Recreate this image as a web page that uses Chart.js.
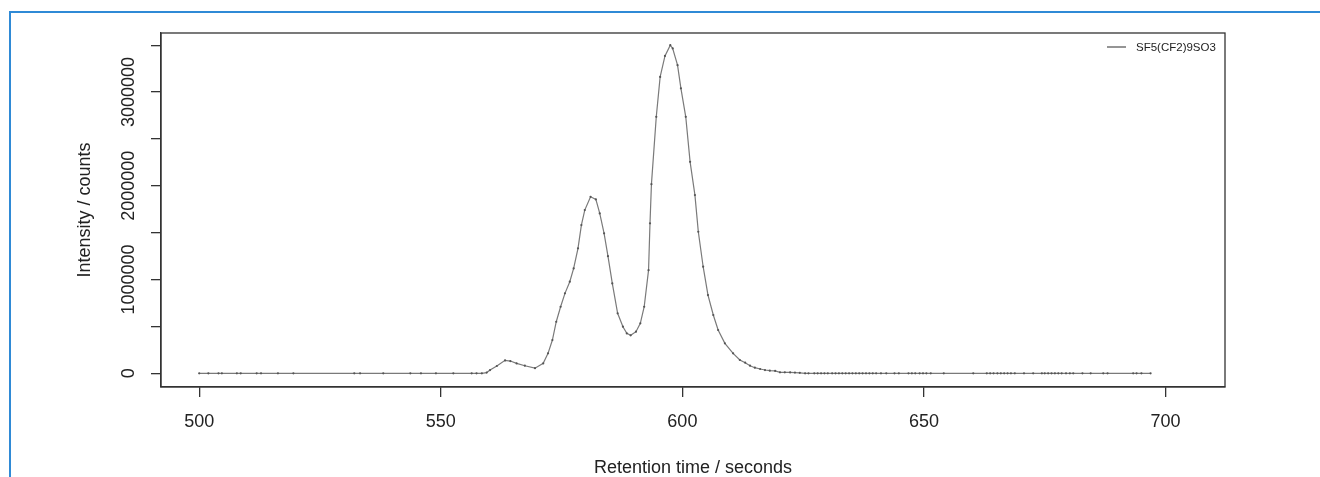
<!DOCTYPE html>
<html>
<head>
<meta charset="utf-8">
<script src="https://cdn.jsdelivr.net/npm/chart.js@4"></script>
<style>
  html, body { margin: 0; padding: 0; background: #fff; }
  #wrap { position: relative; width: 1320px; height: 477px; overflow: hidden; }
  #frame {
    position: absolute; left: 9px; top: 11px; width: 1320px; height: 480px;
    border-top: 2px solid #2f8ad6; border-left: 2px solid #2f8ad6;
  }
  #chart { position: absolute; left: 0; top: 0; }
</style>
</head>
<body>
<div id="wrap">
  <div id="frame"></div>
  <canvas id="chart" width="1320" height="477"></canvas>
</div>
<script>
// ---------------------------------------------------------
// DATA
// ---------------------------------------------------------
const seriesName = "SF5(CF2)9SO3";

// retention time, seconds
const retentionTime = [
  500.0, 501.9, 504.0, 504.7, 507.8, 508.6, 511.9, 512.8, 516.3, 519.5,
  532.1, 533.3, 538.1, 543.7, 545.9, 549.0, 552.6, 556.4, 557.4, 558.5,
  559.5, 560.2, 561.6, 563.3, 564.4, 565.7, 567.4, 569.5, 571.2, 572.2,
  573.1, 573.9, 574.8, 575.7, 576.7, 577.5, 578.4, 579.1, 579.8, 581.0,
  582.1, 582.9, 583.8, 584.6, 585.5, 586.6, 587.7, 588.5, 589.3, 590.4,
  591.3, 592.1, 593.0, 593.3, 593.6, 594.6, 595.4, 596.4, 597.5, 598.0,
  599.0, 599.7, 600.7, 601.6, 602.6, 603.3, 604.3, 605.3, 606.4, 607.4,
  608.8, 610.5, 611.9, 613.0, 614.0, 615.0, 616.1, 617.1, 618.1, 619.2,
  620.2, 621.2, 622.3, 623.3, 624.3, 625.4, 626.1, 627.3, 628.0, 628.7,
  629.4, 630.1, 631.0, 631.7, 632.4, 633.1, 633.8, 634.5, 635.2, 635.9,
  636.6, 637.3, 638.0, 638.7, 639.4, 640.1, 641.1, 642.2, 643.9, 644.8,
  646.8, 647.5, 648.2, 649.1, 649.8, 650.5, 651.4, 654.1, 660.2, 663.0,
  663.7, 664.4, 665.2, 665.9, 666.6, 667.3, 668.0, 668.8, 670.7, 672.6,
  674.4, 675.0, 675.7, 676.4, 677.1, 677.8, 678.5, 679.4, 680.2, 680.9,
  682.8, 684.5, 687.1, 688.0, 693.3, 694.0, 695.0, 696.9
];

// intensity, counts
const intensity = [
  0, 0, 0, 0, 0, 0, 0, 0, 0, 0,
  0, 0, 0, 0, 0, 0, 0, 0, 0, 0,
  8000, 35000, 78000, 138000, 131000, 106000, 81000, 55000, 106000, 213000,
  355000, 550000, 710000, 853000, 977000, 1119000, 1333000, 1581000, 1741000, 1883000,
  1855000, 1706000, 1493000, 1250000, 959000, 640000, 497000, 426000, 405000, 444000,
  533000, 710000, 1100000, 1600000, 2018000, 2736000, 3162000, 3386000, 3500000, 3465000,
  3287000, 3040000, 2736000, 2256000, 1901000, 1510000, 1137000, 835000, 622000, 462000,
  320000, 213000, 142000, 113000, 81000, 60000, 46000, 35000, 28000, 25000,
  11000, 11000, 9000, 8000, 5000, 0, 0, 0, 0, 0,
  0, 0, 0, 0, 0, 0, 0, 0, 0, 0,
  0, 0, 0, 0, 0, 0, 0, 0, 0, 0,
  0, 0, 0, 0, 0, 0, 0, 0, 0, 0,
  0, 0, 0, 0, 0, 0, 0, 0, 0, 0,
  0, 0, 0, 0, 0, 0, 0, 0, 0, 0,
  0, 0, 0, 0, 0, 0, 0, 0
];

const xTicks = [500, 550, 600, 650, 700];
const yTicks = [0, 500000, 1000000, 1500000, 2000000, 2500000, 3000000, 3500000];
const yLabelled = [0, 1000000, 2000000, 3000000];

// ---------------------------------------------------------
// STYLE
// ---------------------------------------------------------
const FONT = "'Liberation Sans', Arial, sans-serif";
const INK = "#333";

// box round the plot area + legend in the top right corner
const boxAndLegend = {
  id: "boxAndLegend",
  afterDraw(chart) {
    const { ctx, chartArea: a } = chart;
    ctx.save();
    ctx.strokeStyle = INK;
    ctx.lineWidth = 1.3;
    ctx.strokeRect(a.left, a.top, a.right - a.left, a.bottom - a.top);

    const ds = chart.data.datasets[0];
    const ly = a.top + 14;
    ctx.strokeStyle = ds.borderColor;
    ctx.lineWidth = 1.6;
    ctx.beginPath();
    ctx.moveTo(a.right - 118, ly);
    ctx.lineTo(a.right - 99, ly);
    ctx.stroke();
    ctx.fillStyle = "#222";
    ctx.font = "11.5px " + FONT;
    ctx.textBaseline = "middle";
    ctx.fillText(ds.label, a.right - 89, ly + 0.5);
    ctx.restore();
  }
};

new Chart(document.getElementById("chart"), {
  type: "line",
  data: {
    datasets: [{
      label: seriesName,
      data: retentionTime.map((t, i) => ({ x: t, y: intensity[i] })),
      borderColor: "#7a7a7a",
      borderWidth: 1.2,
      pointRadius: 1.1,
      pointBackgroundColor: "#555",
      pointBorderWidth: 0,
      tension: 0,
      fill: false
    }]
  },
  options: {
    responsive: false,
    animation: false,
    layout: { padding: { top: 33, right: 95, left: 0, bottom: 0 } },
    plugins: {
      legend: { display: false },
      tooltip: { enabled: false }
    },
    scales: {
      x: {
        type: "linear",
        min: 492.1,
        max: 712.3,
        afterBuildTicks: s => { s.ticks = xTicks.map(v => ({ value: v })); },
        afterFit: s => { s.height = 90; },
        grid: { drawOnChartArea: false, drawTicks: true, tickLength: 10, color: INK, lineWidth: 1.3 },
        border: { display: true, color: INK, width: 1.3 },
        ticks: { color: "#222", font: { family: FONT, size: 18 }, padding: 14, maxRotation: 0 },
        title: {
          display: true,
          text: "Retention time / seconds",
          color: "#222",
          font: { family: FONT, size: 18 },
          padding: { top: 0, bottom: -2 }
        }
      },
      y: {
        type: "linear",
        min: -146000,
        max: 3630000,
        afterBuildTicks: s => { s.ticks = yTicks.map(v => ({ value: v })); },
        afterFit: s => { s.width = 161; },
        grid: { drawOnChartArea: false, drawTicks: true, tickLength: 10, color: INK, lineWidth: 1.3 },
        border: { display: true, color: INK, width: 1.3 },
        ticks: {
          color: "#222",
          font: { family: FONT, size: 18 },
          minRotation: 90,
          maxRotation: 90,
          crossAlign: "center",
          padding: -13,
          autoSkip: false,
          callback: v => (yLabelled.includes(v) ? String(v) : "")
        },
        title: {
          display: true,
          text: "Intensity / counts",
          color: "#222",
          font: { family: FONT, size: 18 },
          padding: { top: 74, bottom: 0 }
        }
      }
    }
  },
  plugins: [boxAndLegend]
});
</script>
</body>
</html>
